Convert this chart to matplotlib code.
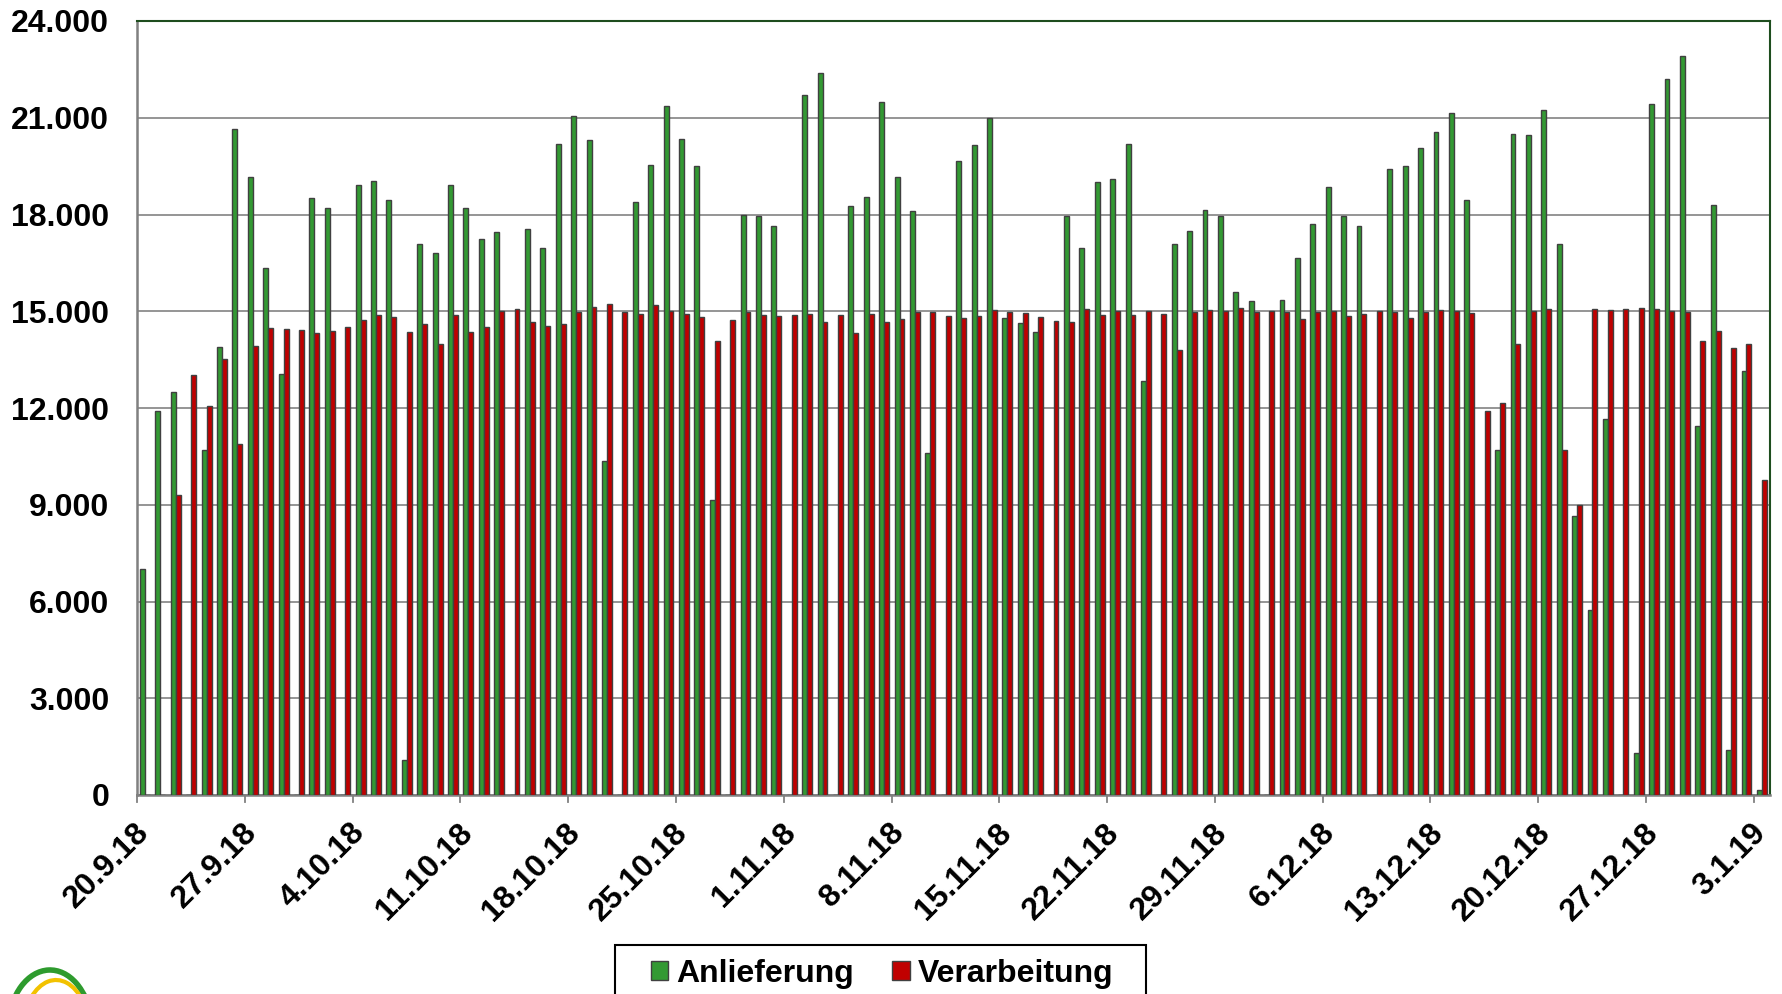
import numpy as np
import pandas as pd
import matplotlib
matplotlib.use("Agg")
import matplotlib.pyplot as plt
import matplotlib.dates as mdates
from matplotlib.patches import Rectangle, Arc
from matplotlib.ticker import FuncFormatter

plt.rcParams["font.family"] = ["Liberation Sans", "DejaVu Sans"]
plt.rcParams["font.weight"] = "bold"

# daily values 20.9.2018 - 3.1.2019
days = pd.date_range("2018-09-20", "2019-01-03", freq="D")

anlieferung = [
    7000, 11900, 12500, 0, 10700, 13900, 20650, 19150, 16350, 13050,
    0, 18500, 18200, 0, 18900, 19050, 18450, 1100, 17100, 16800,
    18900, 18200, 17250, 17450, 0, 17550, 16950, 20200, 21050, 20300,
    10350, 0, 18400, 19550, 21350, 20350, 19500, 9150, 0, 18000,
    17950, 17650, 0, 21700, 22400, 0, 18250, 18550, 21500, 19150,
    18100, 10600, 0, 19650, 20150, 21000, 14800, 14650, 14350, 0,
    17950, 16950, 19000, 19100, 20200, 12850, 0, 17100, 17500, 18150,
    17950, 15600, 15330, 0, 15350, 16650, 17700, 18850, 17950, 17650,
    0, 19400, 19500, 20050, 20550, 21150, 18450, 0, 10700, 20500,
    20450, 21250, 17100, 8650, 5750, 11650, 0, 1300, 21430, 22200,
    22900, 11450, 18300, 1400, 13150, 150,
]

verarbeitung = [
    0, 0, 9300, 13030, 12050, 13530, 10880, 13920, 14490, 14450,
    14410, 14330, 14380, 14520, 14730, 14870, 14810, 14360, 14590, 14000,
    14890, 14350, 14520, 15000, 15080, 14680, 14550, 14600, 14980, 15130,
    15220, 14970, 14900, 15180, 15020, 14900, 14810, 14080, 14730, 14980,
    14890, 14860, 14890, 14900, 14670, 14870, 14320, 14900, 14670, 14750,
    14980, 14970, 14840, 14790, 14860, 15040, 14980, 14950, 14810, 14710,
    14670, 15060, 14890, 15020, 14890, 15000, 14920, 13790, 14970, 15050,
    15020, 15110, 14980, 15000, 14980, 14760, 14970, 15000, 14860, 14920,
    15020, 14970, 14780, 14980, 15050, 15020, 14940, 11900, 12170, 13970,
    15020, 15060, 10700, 8980, 15060, 15050, 15080, 15110, 15060, 15020,
    14980, 14080, 14380, 13850, 13970, 9780,
]

series_names = ["Anlieferung", "Verarbeitung"]
green = "#339933"
red = "#c00000"

W, H = 1783, 994
fig = plt.figure(figsize=(W / 100, H / 100), dpi=100)
ax = fig.add_axes([137 / W, 1 - 795 / H, (1770 - 137) / W, (795 - 21) / H])

x = mdates.date2num(days)
b1 = ax.bar(x + 0.36, anlieferung, width=0.32, color=green,
            edgecolor="#404040", linewidth=1.0, label=series_names[0], zorder=3)
b2 = ax.bar(x + 0.68, verarbeitung, width=0.32, color=red,
            edgecolor="#404040", linewidth=1.0, label=series_names[1], zorder=3)

ax.set_xlim(x[0], x[-1] + 1.05)
ax.set_ylim(0, 24000)
ax.set_yticks(np.arange(0, 24001, 3000))
ax.yaxis.set_major_formatter(FuncFormatter(lambda v, p: f"{int(v):,}".replace(",", ".")))
ax.grid(axis="y", color="#8c8c8c", linewidth=1.3, zorder=0)

week_days = days[::7]
ax.set_xticks(mdates.date2num(week_days) + 0.5)
ax.set_xticklabels([f"{d.day}.{d.month}.{d:%y}" for d in week_days],
                   rotation=45, ha="right", va="center", rotation_mode="anchor")
ax.tick_params(axis="x", length=0, pad=24, labelsize=23)
# tick marks sit at the start of each week
for t in mdates.date2num(week_days):
    ax.plot([t, t], [0, -0.009], transform=ax.get_xaxis_transform(),
            color="#808080", linewidth=1.3, clip_on=False)
ax.tick_params(axis="y", length=0, pad=20, labelsize=23)

for s in ["left", "bottom"]:
    ax.spines[s].set_color("#808080")
    ax.spines[s].set_linewidth(1.8)
for s in ["top", "right"]:
    ax.spines[s].set_color("#1e4d1e")
    ax.spines[s].set_linewidth(1.5)

# legend with a box running off the bottom edge
fig.legend(handles=[b1, b2], labels=series_names, loc="upper center",
           bbox_to_anchor=(882 / W, 1 - 940 / H), ncol=2, frameon=False,
           fontsize=23, handlelength=0.55, handleheight=0.55,
           handletextpad=0.25, columnspacing=1.2, borderpad=0.1)
fig.patches.append(Rectangle((615 / W, -0.01), (1146 - 615) / W, (1 - 945 / H) + 0.01,
                             transform=fig.transFigure, fill=False,
                             edgecolor="black", linewidth=1.5))

# logo fragment at bottom left
fig.patches.append(Arc((50 / W, 1 - 1030 / H), 84 / W, 120 / H, theta1=25, theta2=165,
                       transform=fig.transFigure, color="#2e9b2e", linewidth=4))
fig.patches.append(Arc((56 / W, 1 - 1035 / H), 68 / W, 110 / H, theta1=15, theta2=110,
                       transform=fig.transFigure, color="#f2c200", linewidth=3))

fig.savefig("out.png", dpi=100)
